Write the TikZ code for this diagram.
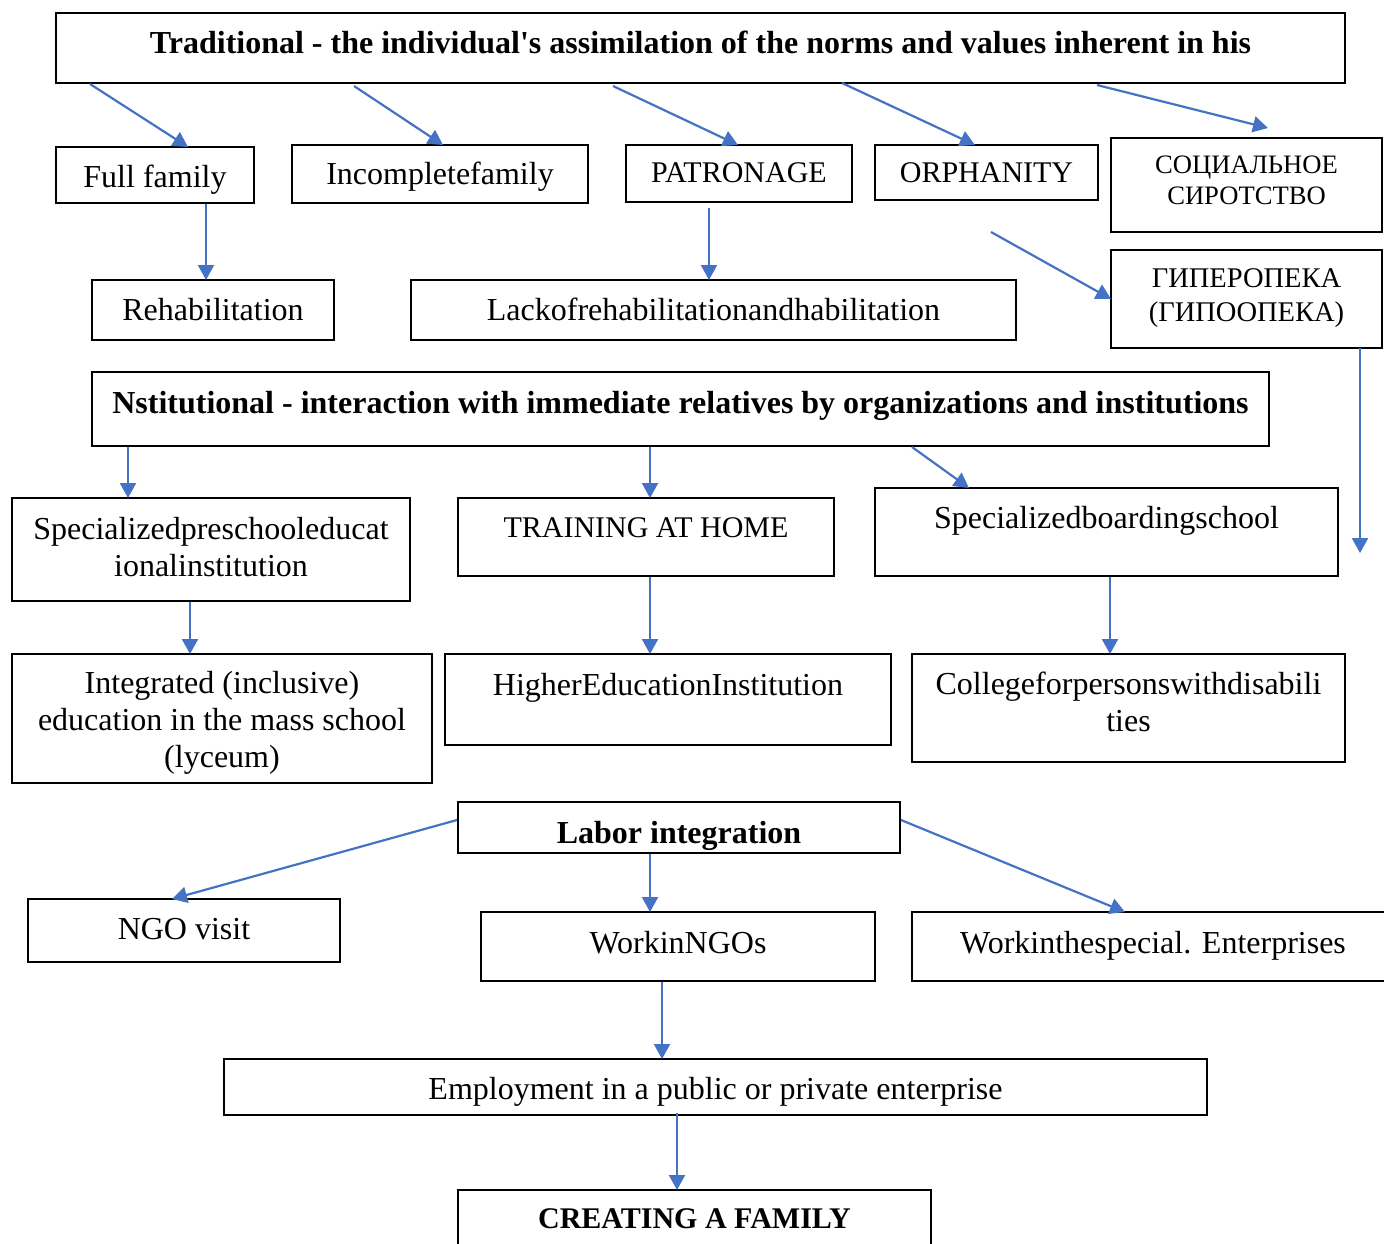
\documentclass[tikz,border=0pt]{standalone}
\usepackage{fontspec}
\setmainfont{Liberation Serif}
\usepackage{tikz}
\usetikzlibrary{arrows.meta, calc}
\definecolor{arrblue}{RGB}{68,114,196}

\begin{document}
\begin{tikzpicture}[
  x=1pt, y=-1pt,
  box/.style={draw, line width=1.6pt, inner sep=0pt, outer sep=0pt,
              anchor=north west, align=center,
              font=\fontsize{32}{37}\selectfont},
  head/.style={box, font=\fontsize{32}{37}\selectfont\bfseries},
  capbox/.style={box, font=\fontsize{30}{35}\selectfont},
  arr/.style={-{Triangle[length=15pt, width=16pt]}, line width=2.2pt, arrblue}]
\useasboundingbox (0,0) rectangle (1384,1243);
% traditional branch
\node[head, minimum width=1289pt, text height=40pt, text depth=30pt] (trad) at (56,13)
  {Traditional - the individual\textquotesingle s assimilation of the norms and values inherent in his};
\node[box, minimum width=198pt, text height=40pt, text depth=16pt] (full) at (56,147) {Full family};
\node[box, minimum width=296pt, text height=39pt, text depth=19pt] (incomp) at (292,145) {Incompletefamily};
\node[capbox, minimum width=226pt, text height=37pt, text depth=20pt] (patr) at (626,145) {PATRONAGE};
\node[capbox, minimum width=223pt, text height=37pt, text depth=18pt] (orph) at (875,145) {ORPHANITY};
\node[box, minimum width=271pt, text height=66pt, text depth=28pt,
      font=\fontsize{26.6}{31}\selectfont] (soc) at (1111,138) {СОЦИАЛЬНОЕ\\СИРОТСТВО};
\node[box, minimum width=271pt, text height=71pt, text depth=27pt,
      font=\fontsize{28.5}{34}\selectfont] (hyper) at (1111,250) {ГИПЕРОПЕКА\\(ГИПООПЕКА)};
\node[box, minimum width=242pt, text height=40pt, text depth=20pt] (rehab) at (92,280) {Rehabilitation};
\node[box, minimum width=605pt, text height=40pt, text depth=20pt] (lack) at (411,280)
  {Lackofrehabilitationandhabilitation};
% institutional branch
\node[head, minimum width=1177pt, text height=41pt, text depth=33pt] (inst) at (92,372)
  {Nstitutional - interaction with immediate relatives by organizations and institutions};
\node[box, minimum width=398pt, text height=78pt, text depth=25pt] (presch) at (12,498)
  {Specializedpreschooleducat\\ionalinstitution};
\node[capbox, minimum width=376pt, text height=39pt, text depth=39pt] (train) at (458,498) {TRAINING AT HOME};
\node[box, minimum width=463pt, text height=40pt, text depth=48pt] (board) at (875,488)
  {Specializedboardingschool};
\node[box, minimum width=420pt, text height=113pt, text depth=16pt] (integ) at (12,654)
  {Integrated (inclusive)\\education in the mass school\\(lyceum)};
\node[box, minimum width=446pt, text height=41pt, text depth=50pt] (higher) at (445,654)
  {HigherEducationInstitution};
\node[box, minimum width=433pt, text height=77pt, text depth=31pt] (college) at (912,654)
  {Collegeforpersonswithdisabili\\ties};
% labor branch
\node[head, minimum width=442pt, text height=41pt, text depth=10pt] (labor) at (458,802) {Labor integration};
\node[box, minimum width=312pt, text height=40pt, text depth=23pt] (ngovisit) at (28,899) {NGO visit};
\node[box, minimum width=394pt, text height=41pt, text depth=28pt] (workngo) at (481,912) {WorkinNGOs};
\node[box, minimum width=482pt, text height=41pt, text depth=28pt] (workspec) at (912,912)
  {Workinthespecial. Enterprises};
\node[box, minimum width=983pt, text height=40pt, text depth=16pt] (employ) at (224,1059)
  {Employment in a public or private enterprise};
\node[head, minimum width=473pt, text height=38pt, text depth=24pt,
      font=\fontsize{30}{35}\selectfont\bfseries] (family) at (458,1190) {CREATING A FAMILY};
% arrows
\draw[arr] ($(trad.south west)+(34,1)$) -- ($(full.north west)+(132,0)$);
\draw[arr] ($(trad.south west)+(298,3)$) -- ($(incomp.north west)+(151,0)$);
\draw[arr] ($(trad.south west)+(557,3)$) -- ($(patr.north west)+(112,0)$);
\draw[arr] ($(trad.south west)+(786,0)$) -- ($(orph.north west)+(100,0)$);
\coordinate (socend) at ($(soc.north west)+(157,-10)$);
\draw[arr] ($(trad.south west)+(1041,2)$) -- (socend);
\draw[arr] ($(full.south west)+(150,1)$) -- ($(rehab.north west)+(114,0)$);
\draw[arr] ($(patr.south west)+(83,6)$) -- ($(lack.north west)+(298,0)$);
\coordinate (orphout) at ($(orph.south west)+(116,32)$);
\draw[arr] (orphout) -- (hyper.west);
\coordinate (hyperend) at ($(hyper.south west)+(249,205)$);
\draw[arr] ($(hyper.south west)+(249,0)$) -- (hyperend);
\draw[arr] ($(inst.south west)+(36,1)$) -- ($(presch.north west)+(116,0)$);
\draw[arr] ($(inst.south west)+(558,1)$) -- ($(train.north west)+(192,0)$);
\draw[arr] ($(inst.south west)+(820,1)$) -- ($(board.north west)+(94,0)$);
\draw[arr] ($(presch.south west)+(178,1)$) -- ($(integ.north west)+(178,0)$);
\draw[arr] ($(train.south west)+(192,1)$) -- ($(higher.north west)+(205,0)$);
\draw[arr] ($(board.south west)+(235,1)$) -- ($(college.north west)+(198,0)$);
\draw[arr] ($(labor.north west)+(-1,18)$) -- ($(ngovisit.north west)+(144,0)$);
\draw[arr] ($(labor.south west)+(192,1)$) -- ($(workngo.north west)+(169,0)$);
\draw[arr] ($(labor.north east)+(1,18)$) -- ($(workspec.north west)+(213,0)$);
\draw[arr] ($(workngo.south west)+(181,1)$) -- ($(employ.north west)+(438,0)$);
\draw[arr] ($(employ.south west)+(453,-2)$) -- ($(family.north west)+(219,0)$);
\end{tikzpicture}
\end{document}
